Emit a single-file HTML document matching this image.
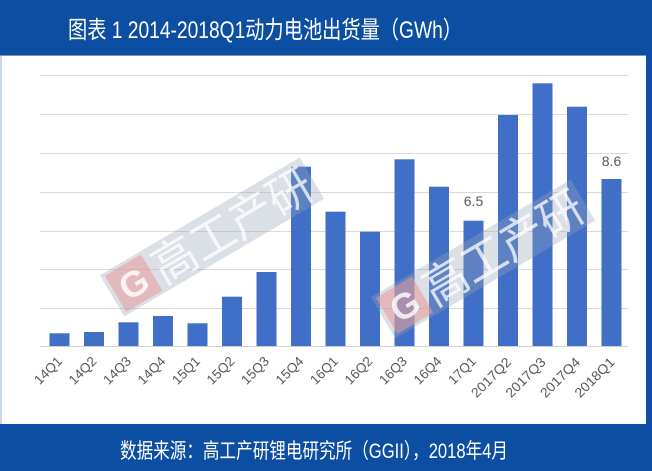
<!DOCTYPE html>
<html><head><meta charset="utf-8">
<style>
html,body{margin:0;padding:0;background:#fff;}
body{width:652px;height:471px;overflow:hidden;}
svg{display:block;}
</style></head>
<body>
<svg width="652" height="471" viewBox="0 0 652 471" xmlns="http://www.w3.org/2000/svg">
  <rect x="0" y="0" width="652" height="471" fill="#ffffff"/>
  <rect x="0" y="56" width="2" height="368" fill="#c9d8ec"/>
  <rect x="646" y="0" width="6" height="471" fill="#0c4ea1"/>
  <!-- header -->
  <rect x="0" y="0" width="652" height="56" fill="#0c4ea1"/>
  <rect x="0" y="55" width="646" height="1" fill="#6f97cc"/>
  <text x="68" y="38" font-family="'Liberation Sans','Noto Sans CJK SC',sans-serif" font-size="24" fill="#ffffff" textLength="394" lengthAdjust="spacingAndGlyphs">图表 1 2014-2018Q1动力电池出货量（GWh）</text>
  <!-- footer -->
  <rect x="0" y="424" width="652" height="47" fill="#0c4ea1"/>
  <text x="120" y="458" font-family="'Liberation Sans','Noto Sans CJK SC',sans-serif" font-size="21" fill="#ffffff" textLength="388" lengthAdjust="spacingAndGlyphs">数据来源：高工产研锂电研究所（GGII），2018年4月</text>

  <!-- gridlines -->
  <g stroke="#dadada" stroke-width="1">
    <line x1="40" y1="75.5" x2="628" y2="75.5"/>
    <line x1="40" y1="114.5" x2="628" y2="114.5"/>
    <line x1="40" y1="153.5" x2="628" y2="153.5"/>
    <line x1="40" y1="192.5" x2="628" y2="192.5"/>
    <line x1="40" y1="231.5" x2="628" y2="231.5"/>
    <line x1="40" y1="269.5" x2="628" y2="269.5"/>
    <line x1="40" y1="308.5" x2="628" y2="308.5"/>
    <line x1="40" y1="346.5" x2="628" y2="346.5" stroke="#d0d0d0"/>
  </g>

  <!-- bars -->
  <g fill="#3f6fc6">
    <rect x="49.5" y="333.3" width="20" height="12.7"/>
    <rect x="84" y="332" width="20" height="14"/>
    <rect x="118.5" y="322.3" width="20" height="23.7"/>
    <rect x="153" y="316" width="20" height="30"/>
    <rect x="187.5" y="323.3" width="20" height="22.7"/>
    <rect x="222" y="296.7" width="20" height="49.3"/>
    <rect x="256.5" y="272" width="20" height="74"/>
    <rect x="291" y="166.7" width="20" height="179.3"/>
    <rect x="325.5" y="211.7" width="20" height="134.3"/>
    <rect x="360" y="231.7" width="20" height="114.3"/>
    <rect x="394.5" y="159.3" width="20" height="186.7"/>
    <rect x="429" y="186.7" width="20" height="159.3"/>
    <rect x="463.5" y="220.7" width="20" height="125.3"/>
    <rect x="498" y="115" width="20" height="231"/>
    <rect x="532.5" y="83.3" width="20" height="262.7"/>
    <rect x="567" y="106.7" width="20" height="239.3"/>
    <rect x="601.5" y="179" width="20" height="167"/>
  </g>

  <!-- data labels -->
  <g font-family="'Liberation Sans',sans-serif" font-size="14" fill="#595959" text-anchor="middle">
    <text x="473.5" y="206">6.5</text>
    <text x="611.5" y="166">8.6</text>
  </g>

  <!-- watermarks -->
  <g transform="translate(212,237) rotate(-30.5)">
    <rect x="-116" y="-24" width="232" height="48" fill="#98a3b8" fill-opacity="0.35"/>
    <rect x="-112" y="-21" width="42" height="42" fill="#e89a9c" fill-opacity="0.55"/>
    <text x="-91" y="13" font-family="'Liberation Sans',sans-serif" font-weight="bold" font-size="36" fill="#ffffff" fill-opacity="0.8" text-anchor="middle">G</text>
    <text x="-66" y="17" font-family="'Noto Sans CJK SC',sans-serif" font-size="46" fill="#ffffff" fill-opacity="0.75" textLength="178" lengthAdjust="spacingAndGlyphs">高工产研</text>
  </g>
  <g transform="translate(483,259) rotate(-30.5)">
    <rect x="-116" y="-24" width="232" height="48" fill="#98a3b8" fill-opacity="0.35"/>
    <rect x="-112" y="-21" width="42" height="42" fill="#e89a9c" fill-opacity="0.55"/>
    <text x="-91" y="13" font-family="'Liberation Sans',sans-serif" font-weight="bold" font-size="36" fill="#ffffff" fill-opacity="0.8" text-anchor="middle">G</text>
    <text x="-66" y="17" font-family="'Noto Sans CJK SC',sans-serif" font-size="46" fill="#ffffff" fill-opacity="0.75" textLength="178" lengthAdjust="spacingAndGlyphs">高工产研</text>
  </g>

  <!-- x labels -->
  <g font-family="'Liberation Sans',sans-serif" font-size="13.5" fill="#595959" text-anchor="end">
    <text transform="translate(63,362) rotate(-45)">14Q1</text>
    <text transform="translate(97.5,362) rotate(-45)">14Q2</text>
    <text transform="translate(132,362) rotate(-45)">14Q3</text>
    <text transform="translate(166.5,362) rotate(-45)">14Q4</text>
    <text transform="translate(201,362) rotate(-45)">15Q1</text>
    <text transform="translate(235.5,362) rotate(-45)">15Q2</text>
    <text transform="translate(270,362) rotate(-45)">15Q3</text>
    <text transform="translate(304.5,362) rotate(-45)">15Q4</text>
    <text transform="translate(339,362) rotate(-45)">16Q1</text>
    <text transform="translate(373.5,362) rotate(-45)">16Q2</text>
    <text transform="translate(408,362) rotate(-45)">16Q3</text>
    <text transform="translate(442.5,362) rotate(-45)">16Q4</text>
    <text transform="translate(477,362) rotate(-45)">17Q1</text>
    <text transform="translate(512,363) rotate(-45)" textLength="50" lengthAdjust="spacingAndGlyphs">2017Q2</text>
    <text transform="translate(546.5,363) rotate(-45)" textLength="50" lengthAdjust="spacingAndGlyphs">2017Q3</text>
    <text transform="translate(581,363) rotate(-45)" textLength="50" lengthAdjust="spacingAndGlyphs">2017Q4</text>
    <text transform="translate(615.5,363) rotate(-45)" textLength="50" lengthAdjust="spacingAndGlyphs">2018Q1</text>
  </g>
</svg>
</body></html>
